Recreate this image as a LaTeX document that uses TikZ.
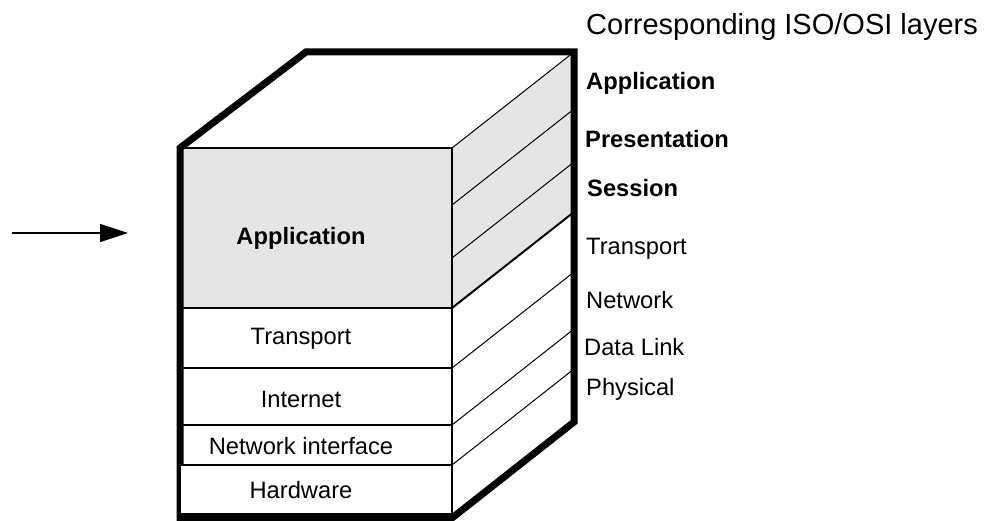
\documentclass[tikz,border=0pt]{standalone}
\usepackage{fontspec}
\setmainfont{Liberation Sans}
\usetikzlibrary{arrows.meta}

\begin{document}
\begin{tikzpicture}[x=10pt, y=10pt,
    layer/.style={draw, line width=1.2pt, outer sep=0pt, inner sep=0pt,
      minimum width=272pt, anchor=south west},
    edge/.style={line width=1pt},
    lbl/.style={font=\fontsize{23.7}{28}\selectfont, inner sep=0pt},
    osi/.style={lbl, anchor=base west},
    tcp/.style={lbl, anchor=base}]
  \useasboundingbox (0,0) rectangle (98.7,52.1);
  % shaded application part, front and side
  \fill[gray!20] (18.0,21.3) rectangle (45.2,37.3);%
  \fill[gray!20] (45.2,21.3) -- (45.2,37.3) -- (57.4,46.9) -- (57.4,30.9) -- cycle;%
  % front layers
  \node[layer, minimum height=160pt] (app) at (18.0,21.3) {};%
  \node[layer, minimum height=60pt] (trn) at (18.0,15.3) {};%
  \node[layer, minimum height=57pt] (inet) at (18.0,9.6) {};%
  \node[layer, minimum height=40pt] (nif) at (18.0,5.6) {};%
  % side lines
  \draw[edge] (app.north east) -- ++(12.2,9.6);%
  \foreach \y in {31.6,26.3} {%
    \draw[edge] (45.2,\y) -- ++(12.2,9.6);%
  }
  \draw[line width=2pt] (app.south east) -- ++(12.2,9.6);%
  \draw[edge] (trn.south east) -- ++(12.2,9.6);%
  \draw[edge] (inet.south east) -- ++(12.2,9.6);%
  \draw[edge] (nif.south east) -- ++(12.2,9.6);%
  % outline
  \draw[line width=7pt] (18.0,37.3) -- (30.6,46.9) -- (57.4,46.9) -- (57.4,9.9)
    -- (45.2,0.3) -- (18.0,0.3) -- cycle;%
  \node[layer, fill=white, minimum height=49pt] (hw) at (18.0,0.7) {};%
  % arrow
  \coordinate (src) at (1.2,28.8);%
  \coordinate (tip) at (12.8,28.8);%
  \draw[line width=1.5pt, -{Triangle[length=28pt, width=18pt]}] (src) -- (tip);%
  % TCP/IP layer names
  \node[tcp, font=\fontsize{23.7}{28}\selectfont\bfseries] (tapp) at (30.1,27.6) {Application};%
  \node[tcp] (ttrn) at (30.1,17.6) {Transport};%
  \node[tcp] (tinet) at (30.1,11.3) {Internet};%
  \node[tcp] (tnif) at (30.1,6.6) {Network interface};%
  \node[tcp] (thw) at (30.1,2.2) {Hardware};%
  % ISO/OSI layer names
  \node[osi, font=\fontsize{29}{34}\selectfont] (title) at (58.6,48.6) {Corresponding ISO/OSI layers};%
  \node[osi, font=\fontsize{23.7}{28}\selectfont\bfseries] (oapp) at (58.6,43.1) {Application};%
  \node[osi, font=\fontsize{23.7}{28}\selectfont\bfseries] (opre) at (58.5,37.3) {Presentation};%
  \node[osi, font=\fontsize{23.7}{28}\selectfont\bfseries] (oses) at (58.7,32.4) {Session};%
  \node[osi] (otrn) at (58.6,26.6) {Transport};%
  \node[osi] (onet) at (58.6,21.2) {Network};%
  \node[osi] (odl) at (58.4,16.5) {Data Link};%
  \node[osi] (ophy) at (58.6,12.5) {Physical};%
\end{tikzpicture}
\end{document}
